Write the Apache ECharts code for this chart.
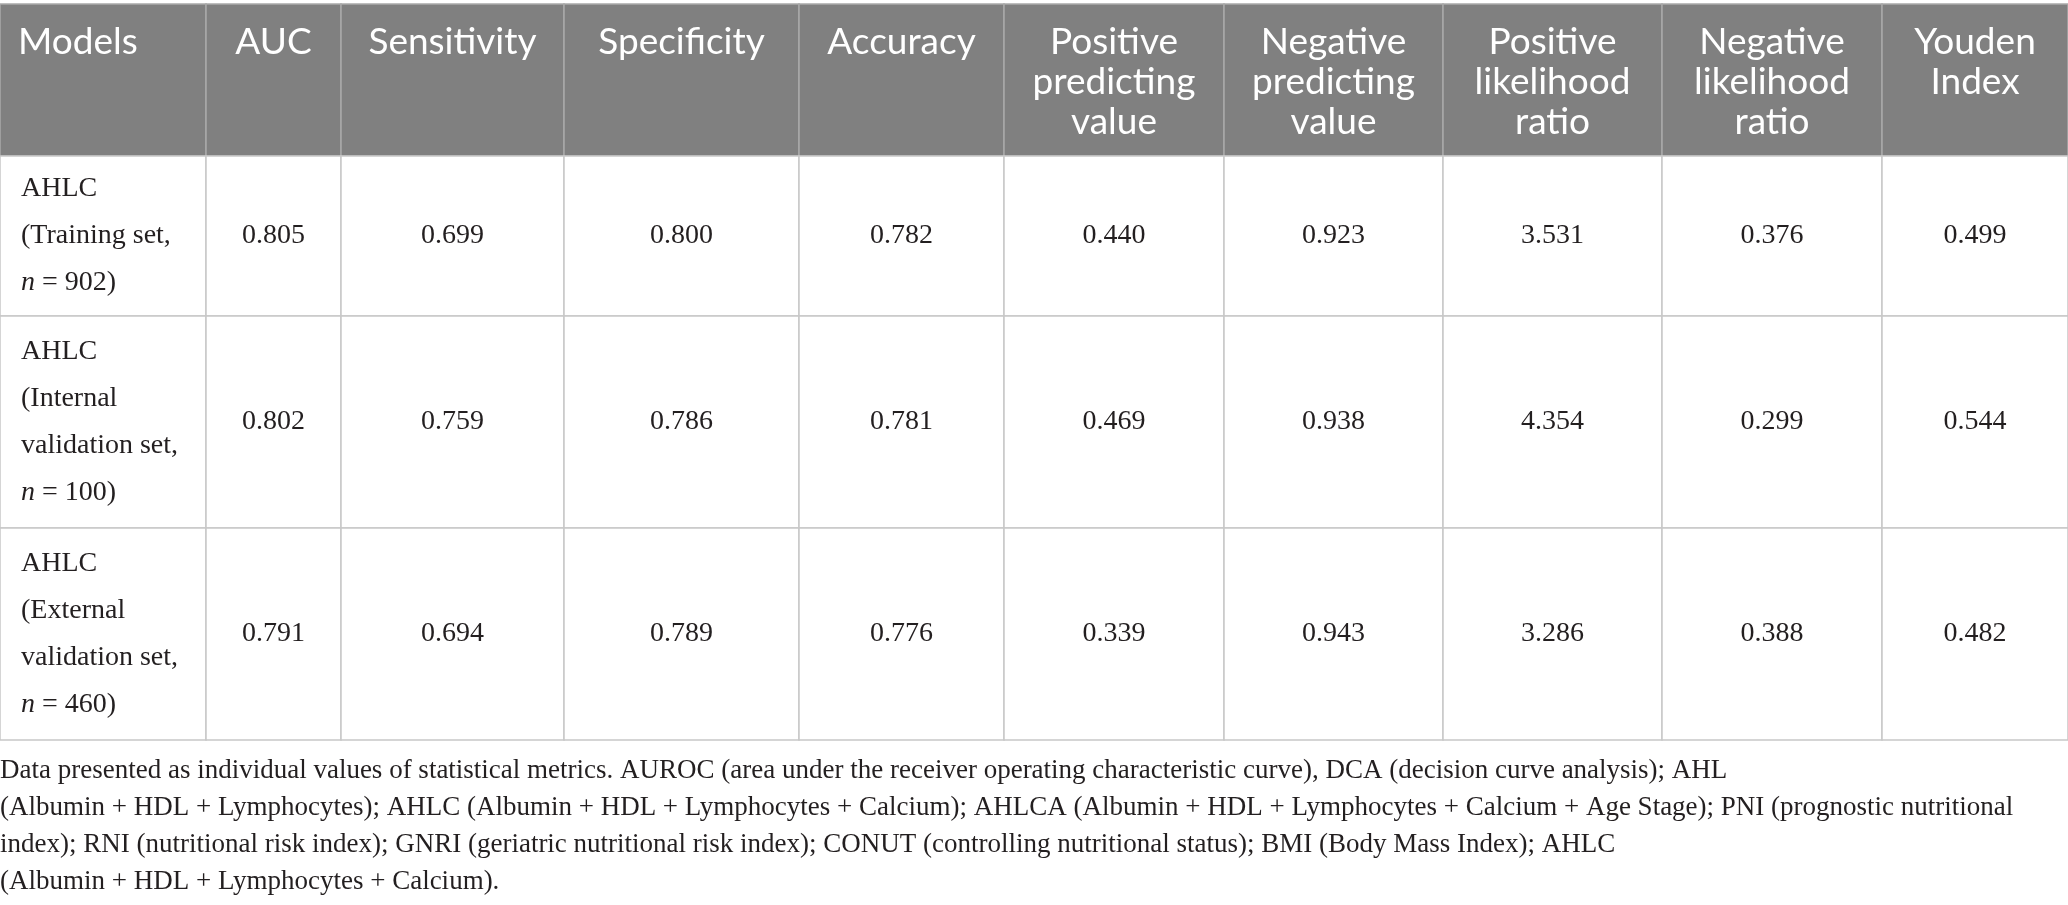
<!DOCTYPE html>
<html>
<head>
<meta charset="utf-8">
<script src="https://cdn.jsdelivr.net/npm/echarts@6/dist/echarts.min.js"></script>
<style>
    html, body { margin: 0; padding: 0; background: #fff; }
    #main { width: 2068px; height: 905px; }
</style>
</head>
<body>
<div id="main"></div>
<script>
// table content
const headers = ['Models', 'AUC', 'Sensitivity', 'Specificity', 'Accuracy',
    'Positive\npredicting\nvalue', 'Negative\npredicting\nvalue',
    'Positive\nlikelihood\nratio', 'Negative\nlikelihood\nratio', 'Youden\nIndex'];
const modelNames = ['AHLC', 'AHLC', 'AHLC'];
const setNames = [['(Training set,'], ['(Internal', 'validation set,'], ['(External', 'validation set,']];
const sampleSizes = [902, 100, 460];

const auc = [0.805, 0.802, 0.791];
const sensitivity = [0.699, 0.759, 0.694];
const specificity = [0.800, 0.786, 0.789];
const accuracy = [0.782, 0.781, 0.776];
const ppv = [0.440, 0.469, 0.339];
const npv = [0.923, 0.938, 0.943];
const plr = [3.531, 4.354, 3.286];
const nlr = [0.376, 0.299, 0.388];
const youden = [0.499, 0.544, 0.482];

const captionLines = [
    'Data presented as individual values of statistical metrics. AUROC (area under the receiver operating characteristic curve), DCA (decision curve analysis); AHL',
    '(Albumin + HDL + Lymphocytes); AHLC (Albumin + HDL + Lymphocytes + Calcium); AHLCA (Albumin + HDL + Lymphocytes + Calcium + Age Stage); PNI (prognostic nutritional',
    'index); RNI (nutritional risk index); GNRI (geriatric nutritional risk index); CONUT (controlling nutritional status); BMI (Body Mass Index); AHLC',
    '(Albumin + HDL + Lymphocytes + Calcium).'
];

// layout (axis units = pixels)
const colEdges = [0, 206, 341, 564, 799, 1004, 1224, 1443, 1662, 1882, 2068];
const rowEdges = [0, 152, 312, 524, 736];

const headFill = '#808080';
const headLine = '#a9a9a9';
const bodyLine = '#c8c8c8';
const textColor = '#231f20';
const serif = '"Liberation Serif", "DejaVu Serif", serif';
const sans = 'Lato, "Open Sans", sans-serif';

const metrics = [auc, sensitivity, specificity, accuracy, ppv, npv, plr, nlr, youden];

const cells = [];
headers.forEach(function (h, c) {
    cells.push({value: [c, 0], head: true, text: h});
});
modelNames.forEach(function (m, r) {
    const label = [m].concat(setNames[r]).concat(['{i|n} = ' + sampleSizes[r] + ')']).join('\n');
    cells.push({value: [0, r + 1], head: false, text: label});
    metrics.forEach(function (arr, k) {
        cells.push({value: [k + 1, r + 1], head: false, text: arr[r].toFixed(3)});
    });
});

function renderCell(params, api) {
    const cell = cells[params.dataIndex];
    const c = api.value(0);
    const r = api.value(1);
    const p0 = api.coord([colEdges[c], rowEdges[r]]);
    const p1 = api.coord([colEdges[c + 1], rowEdges[r + 1]]);
    const x = p0[0], y = p0[1], w = p1[0] - p0[0], h = p1[1] - p0[1];

    if (cell.head) {
        return {
            type: 'group',
            children: [{
                type: 'rect',
                shape: {x: x, y: y, width: w, height: h},
                style: {fill: headFill, stroke: headLine, lineWidth: 1.5}
            }, {
                type: 'text',
                x: c === 0 ? x + 18 : x + w / 2,
                y: y + 18,
                style: {
                    text: cell.text,
                    fill: '#ffffff',
                    fontFamily: sans,
                    fontSize: 37,
                    lineHeight: 40,
                    align: c === 0 ? 'left' : 'center',
                    verticalAlign: 'top'
                }
            }]
        };
    }
    return {
        type: 'group',
        children: [{
            type: 'rect',
            shape: {x: x, y: y, width: w, height: h},
            style: {fill: '#ffffff', stroke: bodyLine, lineWidth: 1.5}
        }, {
            type: 'text',
            x: c === 0 ? x + 21 : x + w / 2,
            y: y + h / 2,
            style: {
                text: cell.text,
                fill: textColor,
                fontFamily: serif,
                fontSize: 28,
                lineHeight: 47,
                align: c === 0 ? 'left' : 'center',
                verticalAlign: 'middle',
                rich: {
                    i: {fontFamily: serif, fontSize: 28, fontStyle: 'italic', lineHeight: 47, fill: textColor}
                }
            }
        }]
    };
}

const chart = echarts.init(document.getElementById('main'));
chart.setOption({
    animation: false,
    title: {
        text: captionLines.join('\n'),
        left: 0,
        top: 752,
        padding: 0,
        textStyle: {
            fontFamily: serif,
            fontSize: 27,
            fontWeight: 'normal',
            color: textColor,
            lineHeight: 37
        }
    },
    grid: {left: 0, top: 4, width: 2068, height: 736},
    xAxis: {type: 'value', min: 0, max: 2068, show: false},
    yAxis: {type: 'value', min: 0, max: 736, inverse: true, show: false},
    series: [{
        type: 'custom',
        renderItem: renderCell,
        clip: false,
        data: cells
    }]
});

window.addEventListener('resize', function () {
    chart.resize();
});
</script>
</body>
</html>
